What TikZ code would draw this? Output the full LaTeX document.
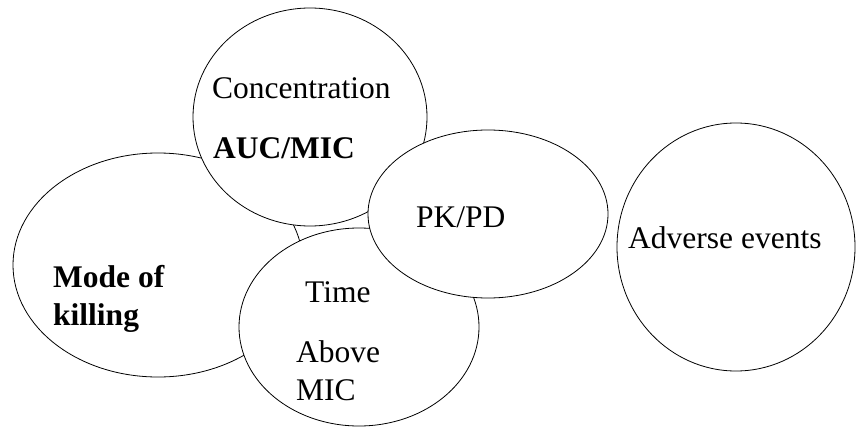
\documentclass[tikz,border=0pt]{standalone}
\usepackage{fontspec}
\setmainfont{Liberation Serif}
\usepackage{tikz}
\usetikzlibrary{shapes.geometric}

\begin{document}
\begin{tikzpicture}[
  x=1pt, y=-1pt,
  bubble/.style={ellipse, draw=black, line width=0.8pt, fill=white, inner sep=0pt},
  txt/.style={anchor=base west, inner sep=0pt, font=\fontsize{31.5}{38}\selectfont},
  btxt/.style={txt, font=\fontsize{31.5}{38}\selectfont\bfseries}
]
\useasboundingbox (0,0) rectangle (856,428);

% ---- bubbles (back to front)
\node[bubble, minimum width=290pt, minimum height=224pt] (mode) at (158,265) {};
\node[bubble, minimum width=234pt, minimum height=218pt] (conc) at (310,117) {};
\node[bubble, minimum width=240pt, minimum height=198pt] (time) at (359,327) {};
\node[bubble, minimum width=240pt, minimum height=168pt] (pkpd) at (488,214) {};
\node[bubble, minimum width=238pt, minimum height=248pt] (adv)  at (736,247) {};

% ---- labels
\node[txt]  (concT)  at (212,98)  {Concentration};
\node[btxt] (aucT)   at (213,158) {AUC/MIC};
\node[btxt] (modeT)  at (53,287)  {Mode of};
\node[btxt] (killT)  at (53,325)  {killing};
\node[txt]  (pkpdT)  at (416,227) {PK/PD};
\node[txt]  (timeT)  at (305,302) {Time};
\node[txt]  (aboveT) at (296,362) {Above};
\node[txt]  (micT)   at (296,400) {MIC};
\node[txt]  (advT)   at (628,248) {Adverse events};
\end{tikzpicture}
\end{document}
